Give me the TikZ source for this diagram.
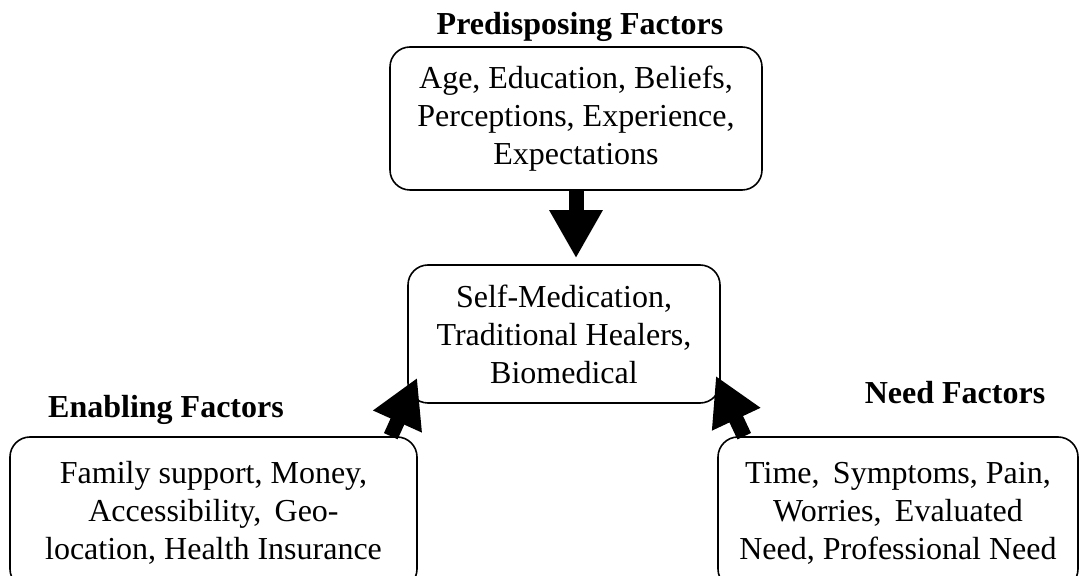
\documentclass[tikz,border=0pt]{standalone}
\usepackage{fontspec}
\setmainfont{Liberation Serif}
\usetikzlibrary{arrows.meta}
\begin{document}
\begin{tikzpicture}[x=0.5pt,y=-0.5pt,
	box/.style={draw,rounded corners=10pt,line width=0.8pt,align=center,inner sep=0pt,font=\fontsize{16}{19}\selectfont},
	head/.style={font=\fontsize{16}{19}\selectfont\bfseries},
	fat/.style={line width=7.5pt,-{Triangle[length=24pt,width=25pt]}}]
			\useasboundingbox (0,0) rectangle (1080,576);
			\node[box,minimum width=186pt,minimum height=71.5pt] (pre) at (576,118.5) {Age, Education, Beliefs,\\Perceptions, Experience,\\Expectations};
			\node[box,minimum width=156pt,minimum height=69pt] (use) at (564,334) {Self-Medication,\\Traditional Healers,\\Biomedical};
			\node[box,minimum width=203.5pt,minimum height=76pt] (enab) at (213.5,513) {Family support, Money,\\Accessibility,\, Geo-\\location, Health Insurance};
			\node[box,minimum width=180pt,minimum height=76pt] (need) at (898,513) {Time,\, Symptoms, Pain,\\Worries,\, Evaluated\\Need, Professional Need};
			\node[head] (tpre) at (580,27) {Predisposing Factors};
			\node[head] (tenab) at (166,410) {Enabling Factors};
			\node[head] (tneed) at (955,393) {Need Factors};
			\draw[fat] (pre.south) -- ([yshift=3pt]pre.south |- use.north);
			\draw[fat] ([xshift=-13.5pt]enab.north east) -- ([xshift=5pt,yshift=13pt]use.south west);
			\draw[fat] ([xshift=13.5pt]need.north west) -- ([xshift=-2.5pt,yshift=14pt]use.south east);
		\end{tikzpicture}
\end{document}
